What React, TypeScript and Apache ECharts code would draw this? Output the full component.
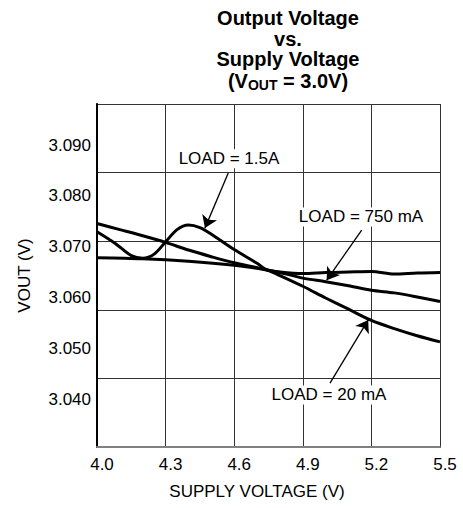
import React, { useEffect, useRef } from 'react';
import * as echarts from 'echarts';

const FONT = "'Liberation Sans', Arial, Helvetica, sans-serif";

// Axis ticks
const xTicks = [4.0, 4.3, 4.6, 4.9, 5.2, 5.5];
const yTicks = [3.04, 3.05, 3.06, 3.07, 3.08, 3.09];
const Y_MIN = 3.03078;
const Y_MAX = 3.09804;

// LOAD = 1.5A
const vin15A = [4.0, 4.08, 4.15, 4.2, 4.25, 4.3, 4.35, 4.4, 4.45, 4.5, 4.6, 4.7, 4.743, 4.8, 4.9, 5.0, 5.1, 5.2, 5.3, 5.4, 5.5];
const vout15A = [3.073, 3.0707, 3.0683, 3.0678, 3.0686, 3.071, 3.0734, 3.0743, 3.0738, 3.0725, 3.0695, 3.0668, 3.0655, 3.0651, 3.0648, 3.065, 3.0651, 3.0652, 3.0647, 3.0649, 3.065];

// LOAD = 750 mA
const vin750 = [4.0, 4.2, 4.4, 4.6, 4.743, 4.8, 4.9, 5.0, 5.1, 5.2, 5.3, 5.4, 5.5];
const vout750 = [3.0679, 3.0677, 3.0672, 3.0664, 3.0655, 3.065, 3.0639, 3.0632, 3.0624, 3.0615, 3.061, 3.0602, 3.0593];

// LOAD = 20 mA
const vin20 = [4.0, 4.1, 4.2, 4.3, 4.4, 4.5, 4.6, 4.743, 4.8, 4.9, 5.0, 5.1, 5.2, 5.3, 5.4, 5.5];
const vout20 = [3.0746, 3.0734, 3.0722, 3.0709, 3.0694, 3.0681, 3.0669, 3.0655, 3.0644, 3.0623, 3.06, 3.0578, 3.0556, 3.054, 3.0526, 3.0514];

// Annotations (data coordinates)
const labelNames = ['LOAD = 1.5A', 'LOAD = 750 mA', 'LOAD = 20 mA'];
const labelCoords = [[4.577, 3.0873], [5.1545, 3.0759], [5.0146, 3.041]];
const arrowFrom = [[4.574, 3.0845], [5.1576, 3.0733], [5.019, 3.0433]];
const arrowTo = [[4.472, 3.0737], [5.0045, 3.0635], [5.186, 3.0557]];

const zip = (xs: number[], ys: number[]) => xs.map((x, i) => [x, ys[i]]);

const lineSeries = (name: string, xs: number[], ys: number[], extra: any = {}) => ({
  type: 'line',
  name,
  data: zip(xs, ys),
  smooth: 0.3,
  showSymbol: false,
  symbol: 'none',
  lineStyle: { color: '#000', width: 3 },
  itemStyle: { color: '#000' },
  silent: true,
  ...extra,
});

export default function App() {
  const ref = useRef<HTMLDivElement>(null);
  useEffect(() => {
    document.body.style.margin = '0';
    const chart = echarts.init(ref.current!, null, { renderer: 'svg' });
    const titleStyle = (text: string) => ({
      text,
      font: `bold 20px ${FONT}`,
      lineHeight: 17,
      fill: '#000',
      align: 'center',
      verticalAlign: 'middle',
    });
    const option: any = {
      animation: false,
      backgroundColor: '#fff',
      textStyle: { fontFamily: FONT },
      grid: { left: 97, top: 104, right: 23, bottom: 61, containLabel: false },
      graphic: [
        { type: 'text', x: 288, y: 18, style: titleStyle('Output Voltage') },
        { type: 'text', x: 288, y: 38.5, style: titleStyle('vs.') },
        { type: 'text', x: 288, y: 59, style: titleStyle('Supply Voltage') },
        {
          type: 'text',
          x: 288,
          y: 81,
          style: {
            text: '{a|(V}{s|OUT}{a| = 3.0V)}',
            align: 'center',
            verticalAlign: 'middle',
            fill: '#000',
            font: `bold 20px ${FONT}`,
            rich: {
              a: { fontFamily: FONT, fontWeight: 'bold', fontSize: 20, lineHeight: 22, verticalAlign: 'middle' },
              s: { fontFamily: FONT, fontWeight: 'bold', fontSize: 14, lineHeight: 13, verticalAlign: 'bottom' },
            },
          },
        },
      ],
      xAxis: [
        {
          type: 'value',
          min: 4,
          max: 5.5,
          axisLine: { show: true, onZero: false, lineStyle: { color: '#000', width: 2 } },
          axisTick: { show: false },
          splitLine: { show: false },
          axisLabel: {
            customValues: xTicks,
            formatter: (v: number) => v.toFixed(1),
            fontSize: 17,
            color: '#000',
            fontFamily: FONT,
            margin: 9,
            padding: [0, 0, 0, 10],
          },
          name: 'SUPPLY VOLTAGE (V)',
          nameLocation: 'middle',
          nameGap: 36,
          nameTextStyle: { fontSize: 17, color: '#000', fontFamily: FONT, padding: [0, 23, 0, 0] },
        },
        {
          type: 'value',
          min: 0,
          max: 5,
          interval: 1,
          position: 'top',
          axisLine: { show: true, lineStyle: { color: '#808080', width: 2 } },
          axisTick: { show: false },
          axisLabel: { show: false },
          splitLine: { show: true, lineStyle: { color: '#333', width: 1 } },
        },
      ],
      yAxis: [
        {
          type: 'value',
          min: Y_MIN,
          max: Y_MAX,
          axisLine: { show: true, onZero: false, lineStyle: { color: '#000', width: 2 } },
          axisTick: { show: false },
          splitLine: { show: false },
          axisLabel: {
            customValues: yTicks,
            formatter: (v: number) => v.toFixed(3),
            fontSize: 17,
            color: '#000',
            fontFamily: FONT,
            margin: 6,
          },
          name: 'VOUT (V)',
          nameLocation: 'middle',
          nameGap: 64,
          nameTextStyle: { fontSize: 17, color: '#000', fontFamily: FONT },
        },
        {
          type: 'value',
          min: 0,
          max: 5,
          interval: 1,
          position: 'right',
          axisLine: { show: true, lineStyle: { color: '#000', width: 1.5 } },
          axisTick: { show: false },
          axisLabel: { show: false },
          splitLine: { show: true, lineStyle: { color: '#333', width: 1 } },
        },
      ],
      series: [
        lineSeries('LOAD = 1.5A', vin15A, vout15A),
        lineSeries('LOAD = 750 mA', vin750, vout750),
        lineSeries('LOAD = 20 mA', vin20, vout20, {
          markLine: {
            silent: true,
            symbol: ['none', 'arrow'],
            symbolSize: 12,
            label: { show: false },
            lineStyle: { color: '#000', width: 1.3, type: 'solid' },
            itemStyle: { color: '#000' },
            emphasis: { disabled: true },
            data: arrowFrom.map((f, i) => [{ coord: f }, { coord: arrowTo[i] }]),
          },
          markPoint: {
            silent: true,
            symbol: 'rect',
            symbolSize: 0,
            label: {
              show: true,
              position: 'inside',
              formatter: '{b}',
              fontSize: 17,
              color: '#000',
              fontFamily: FONT,
              backgroundColor: '#fff',
              padding: [1, 2],
            },
            data: labelNames.map((n, i) => ({ name: n, coord: labelCoords[i] })),
          },
        }),
      ],
    };
    chart.setOption(option);
    return () => chart.dispose();
  }, []);
  return <div ref={ref} style={{ width: 463, height: 508 }} />;
}
